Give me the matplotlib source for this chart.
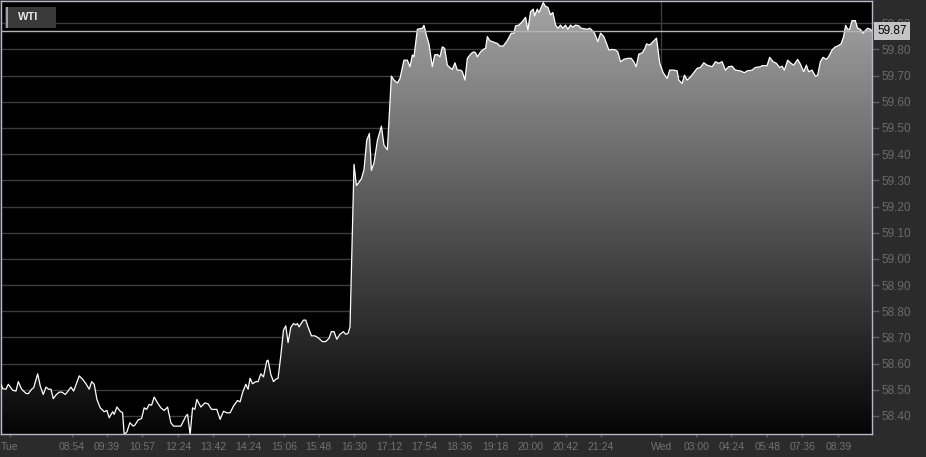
import matplotlib
matplotlib.use("Agg")
import matplotlib.pyplot as plt
import matplotlib.transforms as mtransforms
from matplotlib.colors import LinearSegmentedColormap
from matplotlib.patches import Polygon, Rectangle
import numpy as np

plt.rcParams['font.family'] = ['Liberation Sans', 'DejaVu Sans']

# bar slot (position along the index axis) and WTI price
slot = [0, 1.7, 5, 7.3, 11.7, 15, 17.3, 20.7, 25, 27.3, 30.7, 32.7, 36.7, 39.3, 42.3, 45, 47.7, 50,
        52.3, 55, 58.3, 61, 64.3, 67.7, 70, 72.7, 78.3, 81.7, 85, 88.3, 90.7, 93.3, 96, 99.3, 103.3,
        106, 108.3, 111.7, 113.3, 116, 119.3, 121.7, 123.3, 126, 129, 132.3, 134, 137.3, 140.7,
        143.3, 145.7, 148.3, 150.7, 153.3, 156.7, 160, 163.3, 166.7, 170, 172.7, 180, 185, 186.7,
        189.3, 191.7, 194, 196, 200, 204, 207.3, 210.7, 216, 219.3, 222.7, 226, 229.3, 232.7, 236.7,
        239.3, 241.7, 245, 247.3, 249.3, 251.7, 255, 257.3, 260, 262.7, 266, 267.3, 270, 272.7, 275,
        277.3, 280, 282.7, 285, 287.3, 290, 292.7, 295, 296.7, 298.3, 300, 302.7, 305, 307.3, 310.7,
        314, 317.3, 321.7, 325, 328.3, 330.7, 333.3, 336, 339.3, 342.7, 345, 347.3, 349.3, 353.3,
        355.7, 358.3, 360.7, 363.3, 366, 368.7, 370.7, 373.3, 376.7, 380.7, 383.3, 386.7, 390.7,
        393.3, 396.7, 399.3, 403.3, 406.7, 409.3, 411.7, 413.3, 416.7, 419.3, 421.7, 423.3, 426,
        428.3, 431.7, 434, 436.7, 439.3, 441.7, 444, 446.7, 450, 451.7, 454.3, 456.7, 460, 461.7,
        464.3, 466.7, 470.7, 473.3, 475, 476.7, 480, 482.7, 485, 486.7, 489.3, 491.7, 494, 496.7,
        499.3, 502.7, 506, 508.3, 510.7, 513.3, 515, 518.3, 521.7, 525, 527.3, 530, 532.7, 534,
        536.7, 538.3, 540.7, 542.7, 545, 547.3, 550, 552.3, 555, 557.3, 560, 562.3, 565, 567.3, 570,
        572.3, 575, 578.3, 580.7, 586.7, 589.3, 591.7, 594, 597.3, 600, 603.3, 606, 608.3, 611.7,
        615, 617.3, 620, 623.3, 627.3, 630.7, 633.3, 635.7, 638.3, 641.7, 644, 646, 649.3, 652.7,
        656, 659.3, 662.7, 666.7, 669.3, 673.3, 676.7, 678.3, 681.7, 684, 686.7, 690, 693.3, 696.7,
        700, 703.3, 706.7, 711.7, 715, 718.3, 721.7, 725, 728.3, 731.7, 735, 740, 744, 746.7, 751.7,
        755, 760, 761.7, 766.7, 769.3, 772.7, 776, 779.3, 781.7, 784, 787.3, 790, 793.3, 797.3, 800,
        803.3, 806, 808.3, 811.7, 815, 817.3, 820, 822.7, 826, 828.3, 831.7, 835, 837.3, 840.7,
        843.3, 845.3, 847.3, 849.3, 851.7, 855, 857.3, 860, 862.7, 865, 867.3, 870, 871.7]
price = [58.521, 58.504, 58.502, 58.521, 58.498, 58.495, 58.531, 58.502, 58.486, 58.485, 58.502,
         58.508, 58.561, 58.514, 58.482, 58.510, 58.502, 58.502, 58.466, 58.480, 58.491, 58.491,
         58.482, 58.498, 58.510, 58.495, 58.553, 58.540, 58.523, 58.502, 58.531, 58.521, 58.463,
         58.431, 58.416, 58.421, 58.393, 58.416, 58.406, 58.434, 58.418, 58.412, 58.329, 58.339,
         58.374, 58.361, 58.365, 58.385, 58.390, 58.431, 58.425, 58.444, 58.441, 58.472, 58.450,
         58.431, 58.421, 58.434, 58.374, 58.361, 58.361, 58.399, 58.406, 58.329, 58.431, 58.425,
         58.463, 58.434, 58.450, 58.446, 58.425, 58.425, 58.387, 58.418, 58.412, 58.412, 58.438,
         58.459, 58.454, 58.488, 58.521, 58.502, 58.544, 58.523, 58.531, 58.531, 58.561, 58.549,
         58.610, 58.613, 58.559, 58.531, 58.540, 58.544, 58.629, 58.728, 58.744, 58.680, 58.738,
         58.753, 58.748, 58.753, 58.740, 58.751, 58.766, 58.766, 58.740, 58.706, 58.706, 58.699,
         58.684, 58.684, 58.697, 58.722, 58.722, 58.693, 58.712, 58.722, 58.712, 58.715, 58.740,
         59.361, 59.280, 59.293, 59.306, 59.341, 59.453, 59.479, 59.338, 59.366, 59.453, 59.507,
         59.434, 59.417, 59.698, 59.683, 59.672, 59.689, 59.759, 59.759, 59.734, 59.779, 59.772,
         59.877, 59.879, 59.881, 59.892, 59.851, 59.821, 59.734, 59.779, 59.781, 59.772, 59.810,
         59.804, 59.740, 59.728, 59.724, 59.749, 59.721, 59.721, 59.715, 59.683, 59.766, 59.785,
         59.791, 59.787, 59.772, 59.791, 59.800, 59.804, 59.849, 59.833, 59.830, 59.826, 59.823,
         59.813, 59.813, 59.830, 59.845, 59.862, 59.862, 59.890, 59.893, 59.906, 59.923, 59.874,
         59.944, 59.954, 59.928, 59.954, 59.941, 59.961, 59.979, 59.964, 59.961, 59.932, 59.941,
         59.893, 59.881, 59.893, 59.881, 59.893, 59.877, 59.893, 59.885, 59.893, 59.890, 59.881,
         59.877, 59.881, 59.872, 59.862, 59.830, 59.862, 59.849, 59.823, 59.798, 59.800, 59.798,
         59.791, 59.753, 59.762, 59.766, 59.766, 59.753, 59.734, 59.782, 59.787, 59.800, 59.821,
         59.817, 59.830, 59.843, 59.747, 59.711, 59.689, 59.721, 59.721, 59.718, 59.683, 59.670,
         59.702, 59.683, 59.695, 59.711, 59.728, 59.731, 59.749, 59.740, 59.734, 59.753, 59.747,
         59.753, 59.721, 59.734, 59.736, 59.721, 59.718, 59.711, 59.718, 59.721, 59.731, 59.734,
         59.738, 59.738, 59.770, 59.753, 59.747, 59.731, 59.736, 59.721, 59.759, 59.749, 59.740,
         59.762, 59.744, 59.715, 59.740, 59.715, 59.721, 59.698, 59.701, 59.753, 59.770, 59.762,
         59.772, 59.798, 59.810, 59.813, 59.821, 59.849, 59.892, 59.877, 59.877, 59.910, 59.910,
         59.881, 59.877, 59.862, 59.872, 59.881, 59.877, 59.87]

last_price = 59.87
tick_slots = [9, 70.7, 106, 141, 177, 212, 247, 283, 318, 353, 389, 424, 459, 495, 530, 565, 600,
              661, 696, 731, 767, 802, 838]
tick_labels = ['Tue', '08:54', '09:39', '10:57', '12:24', '13:42', '14:24', '15:06', '15:48',
               '16:30', '17:12', '17:54', '18:36', '19:18', '20:00', '20:42', '21:24', 'Wed',
               '03:00', '04:24', '05:48', '07:36', '08:39']
day_break = 661
price_ticks = [58.4, 58.5, 58.6, 58.7, 58.8, 58.9, 59.0, 59.1, 59.2, 59.3, 59.4, 59.5, 59.6, 59.7,
               59.8, 59.9]

xmin, xmax = 0, 871.7
ymin, ymax = 58.331, 59.985

fig = plt.figure(figsize=(9.26, 4.57), dpi=100)
fig.patch.set_facecolor('#2b2b2b')
ax = fig.add_axes([1 / 926, 23 / 457, 871 / 926, 433 / 457])
ax.set_facecolor('black')

# grid behind the area
for p in price_ticks:
    ax.axhline(p, color='#3c3c3c', lw=1, zorder=1)
ax.axvline(day_break, color='#3c3c3c', lw=1, zorder=1)

# gradient filled area
cmap = LinearSegmentedColormap.from_list('wti', ['#050505', '#a4a4a4'])
grad = np.linspace(1, 0, 256).reshape(-1, 1)
im = ax.imshow(grad, extent=[xmin, xmax, ymin, ymax], aspect='auto', cmap=cmap,
               vmin=0, vmax=1, zorder=2, interpolation='bilinear')
verts = [(slot[0], ymin)] + list(zip(slot, price)) + [(slot[-1], ymin)]
clip = Polygon(verts, closed=True, facecolor='none', edgecolor='none')
ax.add_patch(clip)
im.set_clip_path(clip)
ax.plot(slot, price, color='white', lw=0.9, zorder=3)

# last price line and label
ax.axhline(last_price, color='#b4b4b4', lw=1, zorder=4)
trans = mtransforms.blended_transform_factory(ax.transAxes, ax.transData)
ax.text(1.006, last_price, f'{last_price:.2f}', transform=trans, ha='left', va='center',
        fontsize=8.5, color='black', zorder=6,
        bbox=dict(boxstyle='square,pad=0.25', fc='#c4c4c4', ec='none'))

ax.set_xlim(xmin, xmax)
ax.set_ylim(ymin, ymax)

ax.yaxis.tick_right()
ax.set_yticks(price_ticks)
ax.set_yticklabels([f'{p:.2f}' for p in price_ticks])
ax.tick_params(axis='y', colors='#5c5c5c', labelcolor='#6a6a6a', length=5, width=1,
               labelsize=8.5, pad=2)
ax.set_xticks(tick_slots)
ax.set_xticklabels(tick_labels)
ax.tick_params(axis='x', colors='#5c5c5c', labelcolor='#727272', length=2.5, width=1,
               labelsize=7.5, pad=3)

for s in ax.spines.values():
    s.set_color('#b8b8c8')
    s.set_linewidth(1)

# legend tag
ax.add_patch(Rectangle((4 / 871, 1 - 27 / 433), 51 / 871, 21 / 433, transform=ax.transAxes,
                       facecolor='#3a3a3a', edgecolor='none', zorder=5))
ax.add_patch(Rectangle((5 / 871, 1 - 27 / 433), 2 / 871, 21 / 433, transform=ax.transAxes,
                       facecolor='#a0a0a0', edgecolor='none', zorder=6))
ax.text(17 / 871, 1 - 16.5 / 433, 'WTI', transform=ax.transAxes, ha='left', va='center',
        fontsize=8, fontweight='bold', color='#e8e8e8', zorder=7)

fig.savefig('out.png', dpi=100, facecolor=fig.get_facecolor())
